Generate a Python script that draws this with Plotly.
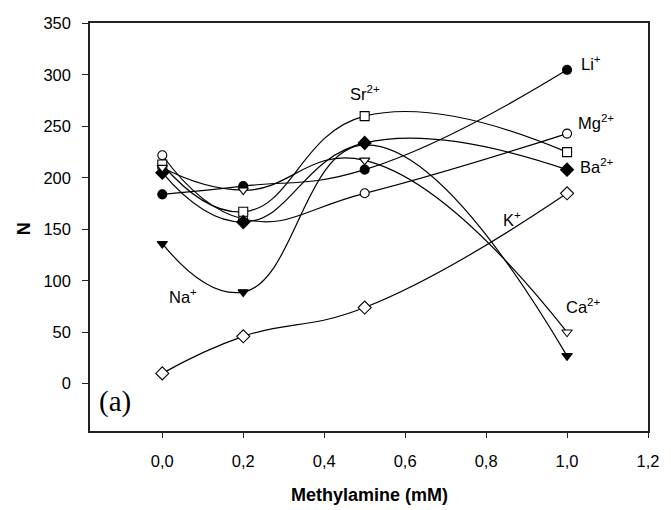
import plotly.graph_objects as go

# Data
conc = [0.0, 0.2, 0.5, 1.0]
li = [184, 192, 208, 305]
mg = [222, 160, 185, 243]
sr = [213, 167, 260, 225]
ba = [205, 157, 234, 208]
ca = [210, 188, 217, 50]
na = [136, 89, 232, 27]
k = [10, 46, 74, 185]

series_names = ["Li+", "Mg2+", "Sr2+", "Ba2+", "Ca2+", "Na+", "K+"]
series_values = [li, mg, sr, ba, ca, na, k]
marker_symbols = ["circle", "circle-open", "square-open", "diamond", "triangle-down-open", "triangle-down", "diamond-open"]
marker_filled = [True, False, False, True, False, True, False]

x_tickvals = [0.0, 0.2, 0.4, 0.6, 0.8, 1.0, 1.2]
x_ticktext = ["0,0", "0,2", "0,4", "0,6", "0,8", "1,0", "1,2"]
y_tickvals = [0, 50, 100, 150, 200, 250, 300, 350]

label_texts = ["Li<sup>+</sup>", "Mg<sup>2+</sup>", "Sr<sup>2+</sup>", "Ba<sup>2+</sup>",
               "Ca<sup>2+</sup>", "Na<sup>+</sup>", "K<sup>+</sup>"]
label_x = [1.030, 1.022, 0.460, 1.027, 0.993, 0.011, 0.837]
label_y = [312, 254, 282, 212, 75, 85, 160]

FONT = "Liberation Sans Narrow, Arial Narrow, Liberation Sans, Arial, sans-serif"

fig = go.Figure()
for name, vals, sym, filled in zip(series_names, series_values, marker_symbols, marker_filled):
    base = sym.replace("-open", "")
    size = 10 if "diamond" in base else 9
    fig.add_trace(go.Scatter(
        x=conc, y=vals, name=name, mode="lines+markers",
        line=dict(color="black", width=1.2, shape="spline", smoothing=1.3),
        marker=dict(symbol=base, size=size,
                    color="black" if filled else "white",
                    line=dict(color="black", width=1.1)),
        showlegend=False, cliponaxis=False,
    ))

annotations = []
for t, x, y in zip(label_texts, label_x, label_y):
    annotations.append(dict(x=x, y=y, xref="x", yref="y", text=t, showarrow=False,
                            xanchor="left", yanchor="middle",
                            font=dict(family=FONT, size=16.5, color="black")))
annotations.append(dict(x=0.012, y=0.072, xref="paper", yref="paper", text="(a)",
                        showarrow=False, xanchor="left", yanchor="middle",
                        font=dict(family="Liberation Serif, Times New Roman, serif", size=29, color="black")))
annotations.append(dict(x=-0.118, y=0.495, xref="paper", yref="paper", text="<b>N</b>",
                        showarrow=False, textangle=-90, xanchor="center", yanchor="middle",
                        font=dict(family=FONT, size=18, color="black")))
annotations.append(dict(x=0.5, y=-0.157, xref="paper", yref="paper", text="<b>Methylamine (mM)</b>",
                        showarrow=False, xanchor="center", yanchor="middle",
                        font=dict(family=FONT, size=18, color="black")))

fig.update_layout(
    width=671, height=510,
    margin=dict(l=90, r=15, t=23, b=79),
    paper_bgcolor="white", plot_bgcolor="white",
    annotations=annotations,
    font=dict(family=FONT, size=16.5, color="black"),
)
fig.update_xaxes(range=[-0.1786, 1.2], tickvals=x_tickvals, ticktext=x_ticktext,
                 ticks="outside", ticklen=5, tickwidth=1.2, tickcolor="#222",
                 showline=True, linecolor="#222", linewidth=1.5, mirror=True,
                 showgrid=False, zeroline=False, ticklabelstandoff=9,
                 tickfont=dict(family=FONT, size=16.5, color="black"))
fig.update_yaxes(range=[-46, 350.5], tickvals=y_tickvals,
                 ticks="outside", ticklen=6, tickwidth=1.2, tickcolor="#222",
                 showline=True, linecolor="#222", linewidth=1.5, mirror=True,
                 showgrid=False, zeroline=False, ticklabelstandoff=8,
                 tickfont=dict(family=FONT, size=16.5, color="black"))

fig.write_html("out.html")
